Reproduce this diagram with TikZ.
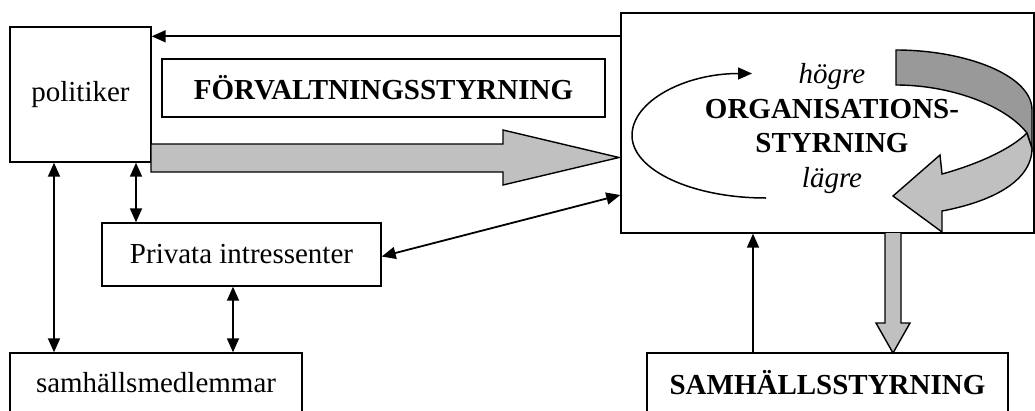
\documentclass[tikz,border=0pt]{standalone}
\usepackage{fontspec}
\setmainfont{Liberation Serif}
\usetikzlibrary{arrows.meta}
\definecolor{lgray}{HTML}{C0C0C0}
\definecolor{dgray}{HTML}{999999}
\begin{document}
\begin{tikzpicture}[x=1pt,y=-1pt,
  every node/.style={font=\fontsize{29pt}{34.5pt}\selectfont},
  box/.style={draw, line width=1.4pt, fill=white, inner sep=0pt},
  tri/.tip={Triangle[length=14pt,width=12pt]},
  arr/.style={-{tri}, line width=1.8pt},
  darr/.style={{tri}-{tri}, line width=1.8pt},
  garrow/.style={draw, fill=lgray, line width=1.4pt, line join=miter}]
\path[use as bounding box] (0,0) rectangle (1035,410);
\clip (0,0) rectangle (1035,410);
% boxes
\node[box, minimum width=413pt, minimum height=220pt] (org) at (827.5,123) {};
\node[box, minimum width=141pt, minimum height=135pt] (pol) at (80.5,94.5) {politiker};
\node[box, minimum width=443pt, minimum height=58pt] (forv) at (383.5,88) {\bfseries FÖRVALTNINGSSTYRNING};
\node[box, minimum width=279pt, minimum height=63pt] (priv) at (241.5,254.5) {Privata intressenter};
\node[box, minimum width=292pt, minimum height=60pt] (samh) at (156,383) {samhällsmedlemmar};
\node[box, minimum width=361pt, minimum height=60pt] (samst) at (827.5,383) {\bfseries SAMHÄLLSSTYRNING};
% block arrows
\draw[garrow] (151,144) -- (503,144) -- (503,130) -- (619,157.5) -- (503,185) -- (503,172) -- (151,172) -- cycle;
\draw[garrow] (885,233) -- (885,323) -- (876,323) -- (893,353) -- (910,323) -- (901,323) -- (901,233);
% curved ribbon arrow
\filldraw[fill=lgray, line width=1.4pt, line join=miter] (1027,133) .. controls (1010,150) and (975,165) .. (942,174) -- (940,155) -- (893,196) -- (942,232) -- (942,211) .. controls (990,202) and (1032,182) .. (1032,148) -- cycle;
\filldraw[fill=dgray, line width=1.4pt] (896,50) .. controls (965,50) and (1032,75) .. (1032,110) -- (1032,148) -- (1027,133) .. controls (1005,105) and (950,85) .. (896,85) -- cycle;
% circular arrow
\draw[arr, line width=1.5pt] (766,198) .. controls (692,198) and (632,170) .. (632,135.5) .. controls (632,101) and (685,73.5) .. (752,73.5);
% text in organisation box
\node[align=center] (orgtext) at (832,128.5) {\textit{högre}\\\textbf{ORGANISATIONS-}\\\textbf{STYRNING}\\\textit{lägre}};
% connectors
\coordinate (t1) at ([yshift=-10pt]pol.north east);
\draw[arr] (org.west |- t1) -- (t1);
\draw[darr] (54,0 |- pol.south) -- (54,0 |- samh.north);
\draw[darr] (136,0 |- pol.south) -- (136,0 |- priv.north);
\draw[darr] (233,0 |- priv.south) -- (233,0 |- samh.north);
\draw[darr] ([yshift=-2pt]priv.east) -- (org.west |- 0,195);
\draw[arr] (753,0 |- samst.north) -- (753,0 |- org.south);
\end{tikzpicture}
\end{document}
